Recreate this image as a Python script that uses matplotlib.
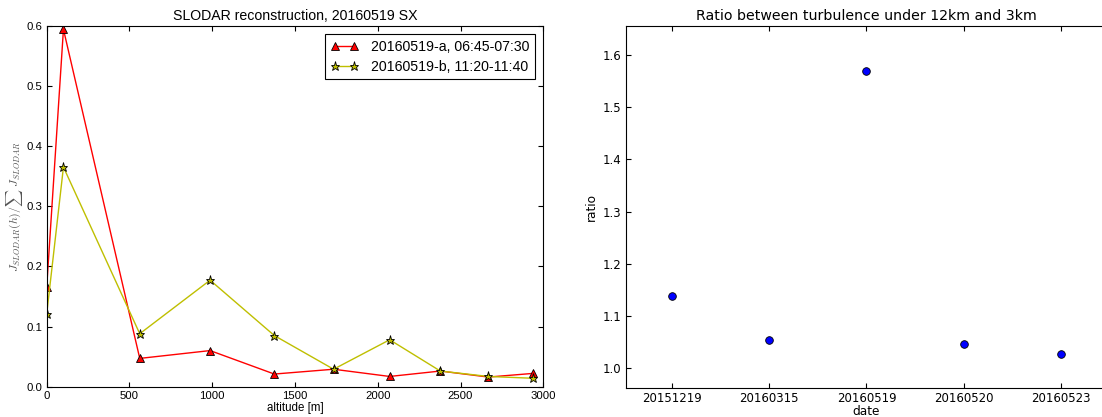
import matplotlib
matplotlib.use("Agg")
import matplotlib.pyplot as plt

# SLODAR profiles, 20160519
altitude = [0, 101, 562, 987, 1375, 1733, 2072, 2378, 2668, 2935]
profile_a = [0.166, 0.594, 0.047, 0.060, 0.021, 0.029, 0.017, 0.026, 0.016, 0.022]
profile_b = [0.121, 0.365, 0.088, 0.177, 0.085, 0.029, 0.078, 0.026, 0.017, 0.014]
label_a = "20160519-a, 06:45-07:30"
label_b = "20160519-b, 11:20-11:40"

# ratio of turbulence under 12km and 3km per night
dates = ["20151219", "20160315", "20160519", "20160520", "20160523"]
ratios = [1.138, 1.055, 1.568, 1.046, 1.027]

plt.rcParams["mathtext.fontset"] = "cm"
plt.rcParams["font.family"] = "DejaVu Sans"
HELV = "Liberation Sans"

fig = plt.figure(figsize=(11.02, 4.17), dpi=100)

# ---- left: SLODAR reconstruction (Helvetica-like text)
ax1 = fig.add_axes([0.0424, 0.0727, 0.4506, 0.8657])
ax1.plot(altitude, profile_a, color="r", marker="^", markersize=6,
         markerfacecolor="r", markeredgecolor="k", markeredgewidth=0.6,
         linewidth=1.0, label=label_a)
ax1.plot(altitude, profile_b, color=(0.75, 0.75, 0), marker="*", markersize=6.5,
         markerfacecolor="y", markeredgecolor="k", markeredgewidth=0.6,
         linewidth=1.0, label=label_b)
ax1.set_xlim(0, 3000)
ax1.set_ylim(0, 0.6)
ax1.set_xticks(range(0, 3001, 500))
ax1.set_yticks([0.0, 0.1, 0.2, 0.3, 0.4, 0.5, 0.6])
ax1.tick_params(direction="in", top=True, right=True, length=3.5, labelsize=8.2, pad=3)
for lab in ax1.get_xticklabels() + ax1.get_yticklabels():
    lab.set_family(HELV)
ax1.set_title("SLODAR reconstruction, 20160519 SX", fontsize=10.2, family=HELV, pad=4)
ax1.set_xlabel("altitude [m]", fontsize=8.3, family=HELV, labelpad=1)
ax1.set_ylabel(r"$J_{SLODAR}(h)/\sum\ J_{SLODAR}$", fontsize=8.5,
               color="#555555", labelpad=1)
leg = ax1.legend(loc="upper right", numpoints=2, fancybox=False,
                 prop={"family": HELV, "size": 10.2},
                 edgecolor="k", framealpha=1, handlelength=2.0, handletextpad=0.85,
                 borderpad=0.4, labelspacing=0.4, borderaxespad=0.6)
leg.get_frame().set_linewidth(0.8)

# ---- right: ratio per date
ax2 = fig.add_axes([0.568, 0.070, 0.4365, 0.868])
x = list(range(len(dates)))
ax2.plot(x, ratios, linestyle="none", marker="o", markersize=5.5,
         markerfacecolor="b", markeredgecolor="k", markeredgewidth=0.6)
ax2.set_xlim(-0.47, 4.47)
ax2.set_ylim(0.963, 1.655)
ax2.set_xticks(x)
ax2.set_xticklabels(dates)
ax2.set_yticks([1.0, 1.1, 1.2, 1.3, 1.4, 1.5, 1.6])
ax2.spines["right"].set_visible(False)
ax2.tick_params(direction="in", top=True, right=False, length=3.5, labelsize=8.5, pad=3)
ax2.set_title("Ratio between turbulence under 12km and 3km", fontsize=10.2, pad=4)
ax2.set_xlabel("date", fontsize=8.7, labelpad=0)
ax2.set_ylabel("ratio", fontsize=8.7)

fig.savefig("out.png", dpi=100)
